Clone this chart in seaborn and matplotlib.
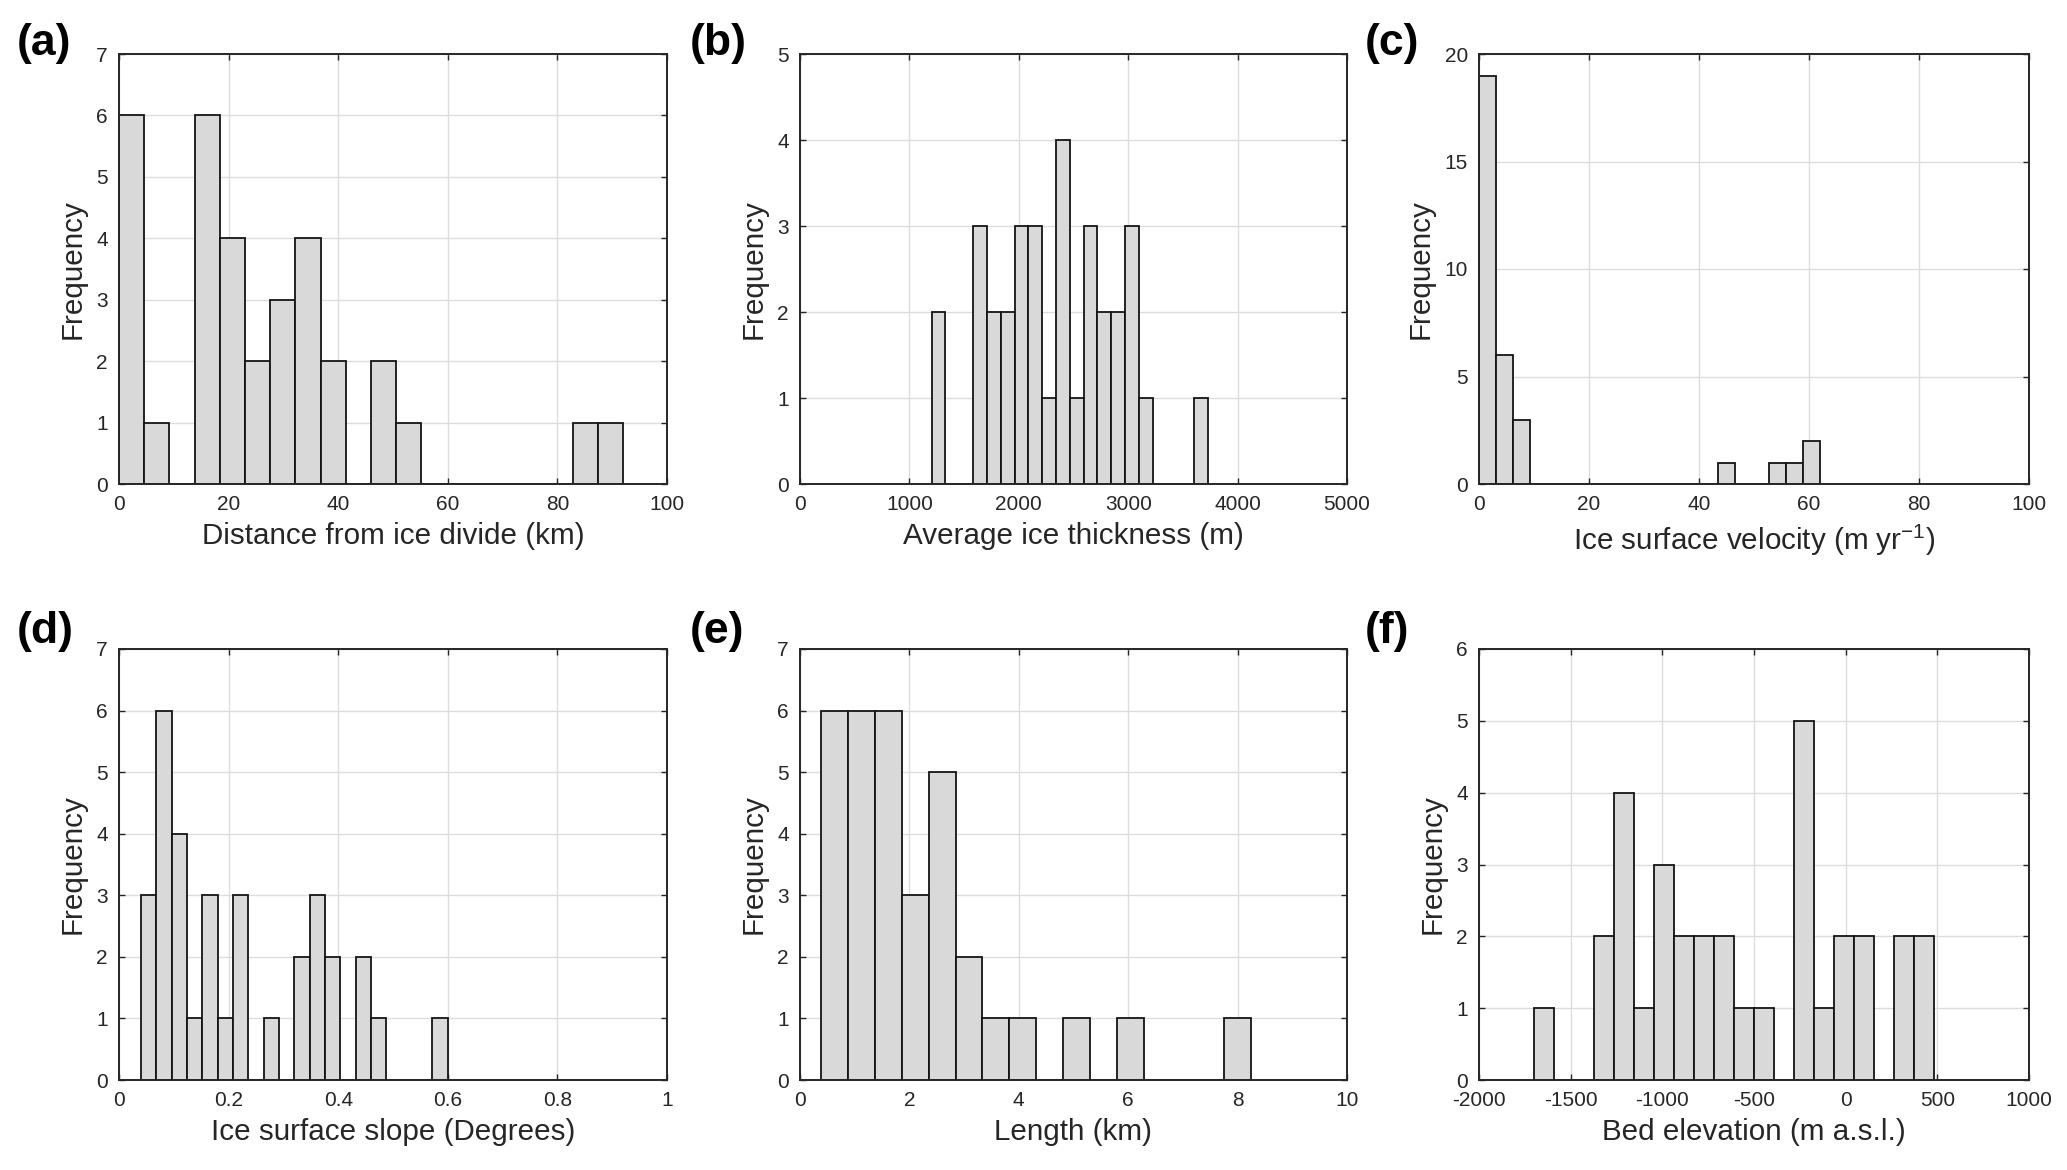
import numpy as np
import pandas as pd
import matplotlib
matplotlib.use("Agg")
import matplotlib.pyplot as plt
import seaborn as sns
from matplotlib.ticker import FuncFormatter, MultipleLocator

# --- DATA: bin start, bin width and counts per bin ---
dist_start, dist_width = 0.0, 4.6
dist_counts = [6, 1, 0, 6, 4, 2, 3, 4, 2, 0, 2, 1, 0, 0, 0, 0, 0, 0, 1, 1]

thick_start, thick_width = 1203.0, 126.3
thick_counts = [2, 0, 0, 3, 2, 2, 3, 3, 1, 4, 1, 3, 2, 2, 3, 1, 0, 0, 0, 1]

vel_start, vel_width = 0.0, 3.1
vel_counts = [19, 6, 3, 0, 0, 0, 0, 0, 0, 0, 0, 0, 0, 0, 1, 0, 0, 1, 1, 2]

slope_start, slope_width = 0.04, 0.028
slope_counts = [3, 6, 4, 1, 3, 1, 3, 0, 1, 0, 2, 3, 2, 0, 2, 1, 0, 0, 0, 1]

len_start, len_width = 0.39, 0.491
len_counts = [6, 6, 6, 3, 5, 2, 1, 1, 0, 1, 0, 1, 0, 0, 0, 1]

bed_start, bed_width = -1700.0, 109.2
bed_counts = [1, 0, 0, 2, 4, 1, 3, 2, 2, 2, 1, 1, 0, 5, 1, 2, 2, 0, 2, 2]

panels = [
    ("(a)", dist_start, dist_width, dist_counts, "Distance from ice divide (km)", (0, 100), 20, (0, 7), 1),
    ("(b)", thick_start, thick_width, thick_counts, "Average ice thickness (m)", (0, 5000), 1000, (0, 5), 1),
    ("(c)", vel_start, vel_width, vel_counts, "Ice surface velocity (m yr$^{-1}$)", (0, 100), 20, (0, 20), 5),
    ("(d)", slope_start, slope_width, slope_counts, "Ice surface slope (Degrees)", (0, 1), 0.2, (0, 7), 1),
    ("(e)", len_start, len_width, len_counts, "Length (km)", (0, 10), 2, (0, 7), 1),
    ("(f)", bed_start, bed_width, bed_counts, "Bed elevation (m a.s.l.)", (-2000, 1000), 500, (0, 6), 1),
]

# --- STYLE ---
sns.set_theme(style="white")
plt.rcParams['font.family'] = ['Liberation Sans', 'DejaVu Sans']
plt.rcParams['mathtext.default'] = 'regular'
dark = '#262626'

W, H = 2067, 1170
fig = plt.figure(figsize=(W / 100, H / 100), dpi=100)

# axes boxes in pixels: left, right / top, bottom
col_px = [(119, 667), (800, 1347), (1479, 2029)]
row_px = [(54, 484), (649, 1080)]
label_x = [17, 690, 1365]
label_y = [43, 632]

fmt = FuncFormatter(lambda v, p: '%g' % round(v, 6))

for i, (tag, start, width, counts, xlabel, xlim, xstep, ylim, ystep) in enumerate(panels):
    r, c = divmod(i, 3)
    l, rr = col_px[c]
    t, b = row_px[r]
    ax = fig.add_axes([l / W, 1 - b / H, (rr - l) / W, (b - t) / H])

    edges = [start + width * k for k in range(len(counts) + 1)]
    centers = [e + width / 2 for e in edges[:-1]]
    df = pd.DataFrame({'x': centers, 'n': counts})
    sns.histplot(data=df, x='x', weights='n', bins=edges, ax=ax,
                 color='#d9d9d9', edgecolor='#141414', linewidth=1.3, alpha=1)

    ax.set_xlim(*xlim)
    ax.set_ylim(*ylim)
    ax.xaxis.set_major_locator(MultipleLocator(xstep))
    ax.yaxis.set_major_locator(MultipleLocator(ystep))
    ax.xaxis.set_major_formatter(fmt)
    ax.yaxis.set_major_formatter(fmt)
    ax.grid(True, color='#dcdcdc', linewidth=1.0)
    ax.set_axisbelow(True)
    for s in ax.spines.values():
        s.set_visible(True)
        s.set_color(dark)
        s.set_linewidth(1.4)
    ax.tick_params(direction='in', length=4, width=1.0, color=dark,
                   top=True, right=True, bottom=True, left=True,
                   labelsize=15, labelcolor=dark)
    ax.tick_params(axis='x', pad=8)
    ax.tick_params(axis='y', pad=8)
    ax.set_xlabel(xlabel, fontsize=21.3, color=dark, labelpad=6)
    ax.set_ylabel('Frequency', fontsize=21.3, color=dark, labelpad=7)

    fig.text(label_x[c] / W, 1 - label_y[r] / H, tag, fontsize=32,
             fontweight='bold', color='black', ha='left', va='center')

fig.savefig('out.png', dpi=100)
